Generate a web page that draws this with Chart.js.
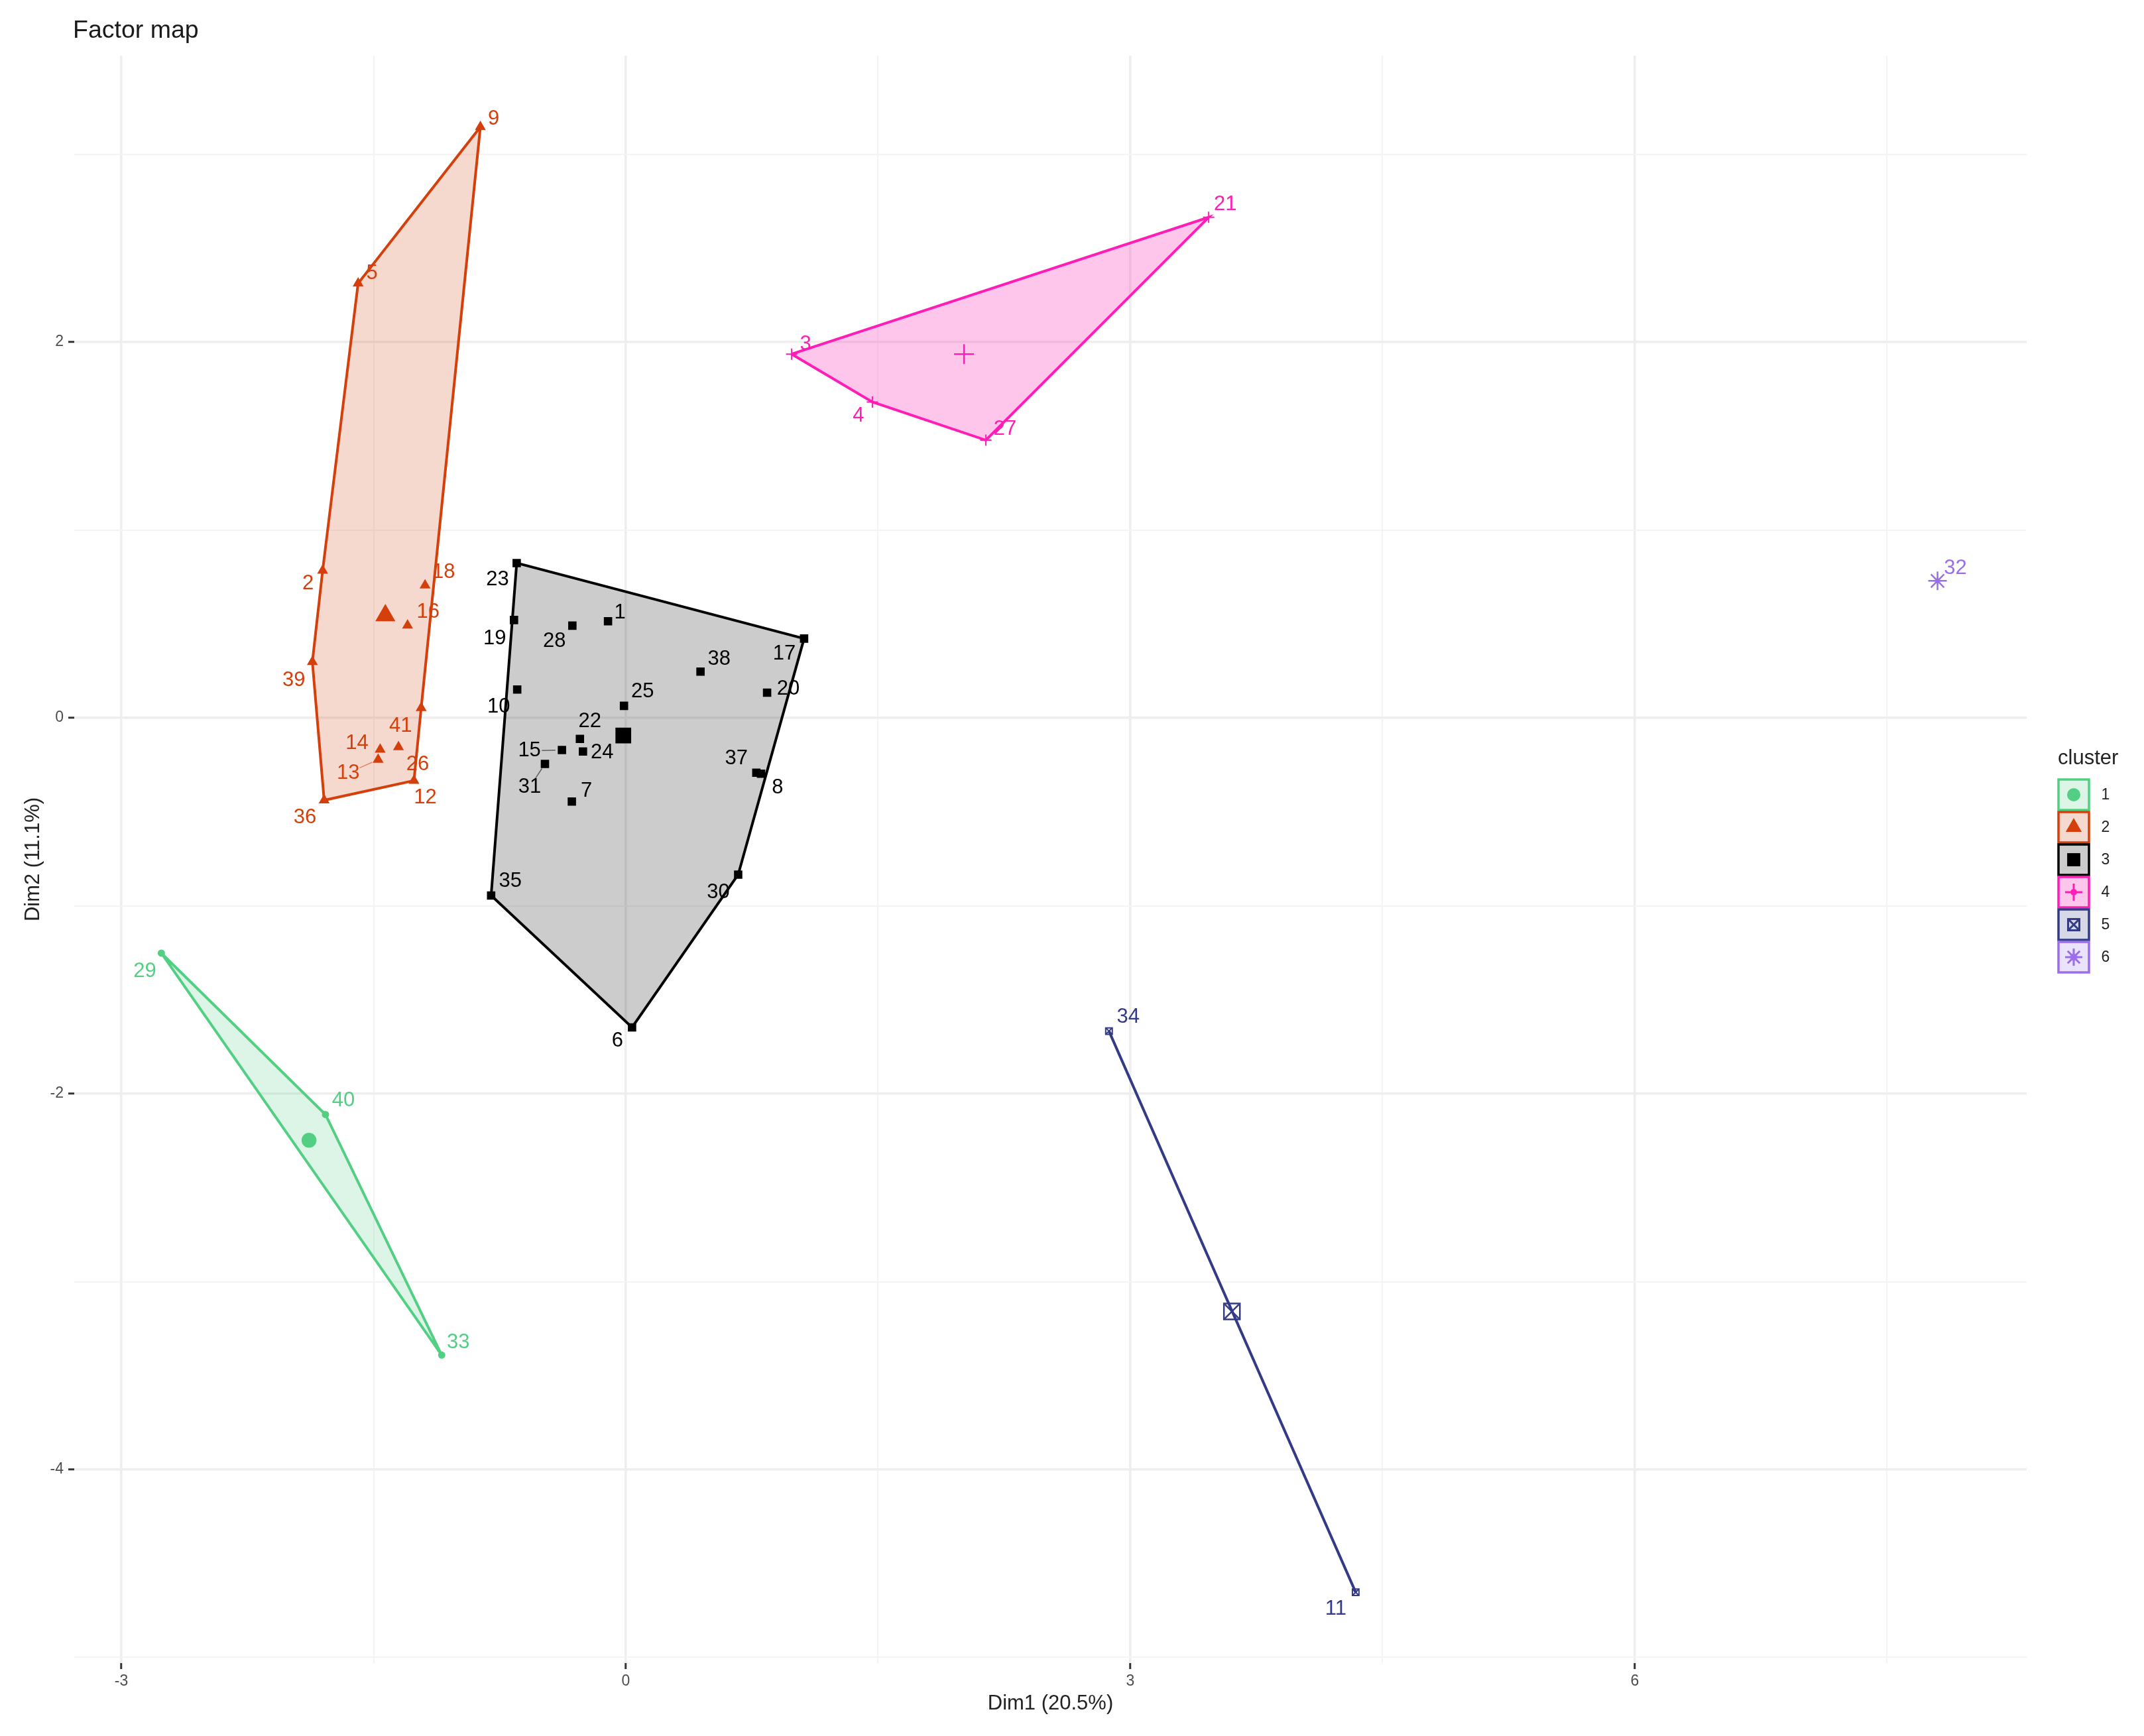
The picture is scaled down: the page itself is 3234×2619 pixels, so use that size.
<!DOCTYPE html>
<html>
<head>
<meta charset="utf-8">
<title>Factor map</title>
<script src="https://cdn.jsdelivr.net/npm/chart.js@4/dist/chart.umd.js"></script>
<style>
  html, body { margin: 0; padding: 0; background: #fff; }
  canvas { display: block; }
</style>
</head>
<body>
<canvas id="factorMap" width="3234" height="2619"></canvas>
<script>
"use strict";

// individuals
const cluster1Ids = ["29", "40", "33"];
const cluster1X = [-2.762, -1.786, -1.095];
const cluster1Y = [-1.252, -2.111, -3.391];

const cluster2Ids = ["9", "5", "2", "18", "16", "39", "41", "14", "26", "13", "12", "36"];
const cluster2X = [-0.865, -1.592, -1.803, -1.194, -1.298, -1.864, -1.217, -1.461, -1.352, -1.473, -1.26, -1.794];
const cluster2Y = [3.145, 2.312, 0.784, 0.706, 0.492, 0.298, 0.053, -0.168, -0.155, -0.222, -0.334, -0.438];

const cluster3Ids = ["23", "19", "1", "28", "38", "17", "20", "10", "25", "22", "15", "24", "31", "7", "37", "8", "30", "35", "6"];
const cluster3X = [-0.649, -0.665, -0.106, -0.318, 0.444, 1.06, 0.84, -0.646, -0.011, -0.273, -0.38, -0.255, -0.481, -0.321, 0.776, 0.804, 0.668, -0.801, 0.037];
const cluster3Y = [0.824, 0.521, 0.514, 0.491, 0.246, 0.422, 0.134, 0.151, 0.064, -0.112, -0.171, -0.179, -0.245, -0.445, -0.292, -0.297, -0.834, -0.945, -1.647];

const cluster4Ids = ["21", "3", "4", "27"];
const cluster4X = [3.466, 0.986, 1.466, 2.141];
const cluster4Y = [2.664, 1.936, 1.681, 1.478];

const cluster5Ids = ["34", "11"];
const cluster5X = [2.873, 4.34];
const cluster5Y = [-1.667, -4.653];

const cluster6Ids = ["32"];
const cluster6X = [7.8];
const cluster6Y = [0.729];

// outline of each cluster, by individual
const hull1 = ["29", "40", "33"];
const hull2 = ["9", "5", "2", "39", "36", "12", "41"];
const hull3 = ["23", "17", "30", "6", "35"];
const hull4 = ["3", "21", "27", "4"];
const hull5 = ["34", "11"];

// cluster centres
const centerX = [-1.884, -1.43, -0.015, 2.011, 3.604, 7.8];
const centerY = [-2.248, 0.545, -0.094, 1.936, -3.159, 0.729];

const clusterNames = ["1", "2", "3", "4", "5", "6"];
const clusterColors = ["#52cf82", "#d43f0b", "#000000", "#ff1db5", "#333a86", "#9a6eea"];

const xGrid = [-3, -1.5, 0, 1.5, 3, 4.5, 6, 7.5];
const yGrid = [3, 2, 1, 0, -1, -2, -3, -4, -5];
const xTickValues = [-3, 0, 3, 6];
const yTickValues = [2, 0, -2, -4];

const titleText = "Factor map";
const xTitle = "Dim1 (20.5%)";
const yTitle = "Dim2 (11.1%)";
const legendTitle = "cluster";

// label position relative to its point, in pixels (ggrepel did this in the original)
const labelNudge = {
  "9": [20, -12], "5": [21, -15], "2": [-22, 20], "18": [28, -19], "16": [31, -20], "39": [-28, 28],
  "41": [-31, 27], "14": [-35, -9], "26": [29, 26], "13": [-45, 20], "12": [17, 26], "36": [-29, 26],
  "23": [-29, 25], "19": [-29, 28], "1": [18, -13], "28": [-27, 24], "38": [28, -19], "17": [-30, 23],
  "20": [32, -6], "10": [-28, 26], "25": [28, -21], "22": [15, -26], "15": [-49, 1], "24": [29, 2],
  "31": [-23, 35], "7": [22, -16], "37": [-30, -21], "8": [25, 21], "30": [-30, 27], "35": [29, -21],
  "6": [-22, 21], "21": [25, -19], "3": [21, -15], "4": [-21, 21], "27": [29, -17],
  "29": [-25, 27], "40": [27, -21], "33": [25, -19], "34": [29, -21], "11": [-30, 25], "32": [27, -19]
};
const leaderLines = ["13", "15", "31"];

const FONT = '"Liberation Sans", Arial, sans-serif';

function toPoints(xs, ys) {
  return xs.map((x, i) => ({ x: x, y: ys[i] }));
}

function hullPoints(hull, ids, xs, ys) {
  return hull.map((id) => ({ x: xs[ids.indexOf(id)], y: ys[ids.indexOf(id)] }));
}

function withAlpha(hex, a) {
  const n = parseInt(hex.slice(1), 16);
  return `rgba(${n >> 16},${(n >> 8) & 255},${n & 255},${a})`;
}

const fillAlpha = [0.2, 0.2, 0.2, 0.25, 0.2, 0.2];

const clusters = [
  { ids: cluster1Ids, xs: cluster1X, ys: cluster1Y, hull: hull1, marks: [["circle", 4.5, true]], center: [["circle", 10, true]] },
  { ids: cluster2Ids, xs: cluster2X, ys: cluster2Y, hull: hull2, marks: [["triangle", 7.5, true]], center: [["triangle", 15, true]] },
  { ids: cluster3Ids, xs: cluster3X, ys: cluster3Y, hull: hull3, marks: [["rect", 7.5, true]], center: [["rect", 15, true]] },
  { ids: cluster4Ids, xs: cluster4X, ys: cluster4Y, hull: hull4, marks: [["cross", 8.5, false]], center: [["cross", 15, false]] },
  { ids: cluster5Ids, xs: cluster5X, ys: cluster5Y, hull: hull5, marks: [["rect", 7, false], ["crossRot", 7, false]], center: [["rect", 17, false], ["crossRot", 15, false]] },
  { ids: cluster6Ids, xs: cluster6X, ys: cluster6Y, hull: null, marks: [["star", 6, false]], center: [["star", 14, false]] }
];

const datasets = [];

clusters.forEach((c, i) => {
  const color = clusterColors[i];
  if (c.hull) {
    const outline = hullPoints(c.hull, c.ids, c.xs, c.ys);
    outline.push(outline[0]);
    datasets.push({
      data: outline,
      showLine: true,
      fill: "shape",
      tension: 0,
      borderColor: color,
      borderWidth: 4,
      backgroundColor: withAlpha(color, fillAlpha[i]),
      pointRadius: 0,
      order: 20 - i
    });
  }
  c.marks.forEach((m) => {
    datasets.push({
      data: toPoints(c.xs, c.ys),
      showLine: false,
      pointStyle: m[0],
      pointRadius: m[1],
      pointBorderWidth: 2,
      pointBorderColor: color,
      pointBackgroundColor: m[2] ? color : "rgba(0,0,0,0)",
      order: 10 - i
    });
  });
  c.center.forEach((m) => {
    datasets.push({
      data: [{ x: centerX[i], y: centerY[i] }],
      showLine: false,
      pointStyle: m[0],
      pointRadius: m[1],
      pointBorderWidth: 2.5,
      pointBorderColor: color,
      pointBackgroundColor: m[2] ? color : "rgba(0,0,0,0)",
      order: 10 - i
    });
  });
});

// repelled numbers next to the points, plus the three little leader lines
const pointLabels = {
  id: "pointLabels",
  afterDatasetsDraw(chart) {
    const { ctx, scales } = chart;
    ctx.save();
    ctx.font = `31px ${FONT}`;
    ctx.textAlign = "center";
    ctx.textBaseline = "middle";
    clusters.forEach((c, i) => {
      c.ids.forEach((id, k) => {
        const px = scales.x.getPixelForValue(c.xs[k]);
        const py = scales.y.getPixelForValue(c.ys[k]);
        const nudge = labelNudge[id];
        if (leaderLines.includes(id)) {
          ctx.strokeStyle = clusterColors[i];
          ctx.globalAlpha = 0.55;
          ctx.lineWidth = 1.5;
          ctx.beginPath();
          ctx.moveTo(px + nudge[0] * 0.2, py + nudge[1] * 0.2);
          ctx.lineTo(px + nudge[0] * 0.62, py + nudge[1] * 0.62);
          ctx.stroke();
          ctx.globalAlpha = 1;
        }
        ctx.fillStyle = clusterColors[i];
        ctx.fillText(id, px + nudge[0], py + nudge[1]);
      });
    });
    ctx.restore();
  }
};

// plot title and the ggplot style legend with boxed keys
const titleAndLegend = {
  id: "titleAndLegend",
  afterDraw(chart) {
    const { ctx } = chart;
    ctx.save();
    ctx.textBaseline = "middle";
    ctx.textAlign = "left";
    ctx.fillStyle = "#1a1a1a";
    ctx.font = `37.5px ${FONT}`;
    ctx.fillText(titleText, 110, 47);

    ctx.fillStyle = "#222222";
    ctx.font = `31px ${FONT}`;
    ctx.fillText(legendTitle, 3104, 1144);

    const keyMarks = [[["circle", 10, true]], [["triangle", 14, true]], [["rect", 14, true]], [["cross", 13, false], ["star", 5, false]], [["rect", 12, false], ["crossRot", 11, false]], [["star", 13, false], ["star", 6, false]]];
    clusterNames.forEach((name, i) => {
      const color = clusterColors[i];
      const top = 1176 + i * 49;
      ctx.fillStyle = withAlpha(color, fillAlpha[i]);
      ctx.strokeStyle = color;
      ctx.lineWidth = 3.5;
      ctx.fillRect(3105, top, 46, 46);
      ctx.strokeRect(3105, top, 46, 46);
      keyMarks[i].forEach((m) => {
        ctx.fillStyle = m[2] ? color : "rgba(0,0,0,0)";
        ctx.strokeStyle = color;
        ctx.lineWidth = 3;
        Chart.helpers.drawPoint(ctx, { pointStyle: m[0], radius: m[1], rotation: 0, borderWidth: m[2] ? 0 : 3 }, 3128, top + 23);
      });
      ctx.fillStyle = "#222222";
      ctx.font = `23px ${FONT}`;
      ctx.textAlign = "center";
      ctx.fillText(name, 3176, top + 24);
      ctx.textAlign = "left";
    });
    ctx.restore();
  }
};

function gridColor(list) {
  return (c) => (list.includes(c.tick.value) ? "#eeeeee" : "#f4f4f4");
}
function gridWidth(list) {
  return (c) => (list.includes(c.tick.value) ? 3.5 : 2);
}
function tickColor(list) {
  return (c) => (list.includes(c.tick.value) ? "#333333" : "rgba(0,0,0,0)");
}

new Chart(document.getElementById("factorMap").getContext("2d"), {
  type: "scatter",
  data: { datasets: datasets },
  plugins: [pointLabels, titleAndLegend],
  options: {
    responsive: false,
    devicePixelRatio: 1,
    animation: false,
    layout: { padding: { left: 0, top: 84, right: 177, bottom: 0 } },
    plugins: { legend: { display: false }, title: { display: false }, tooltip: { enabled: false } },
    scales: {
      x: {
        type: "linear",
        min: -3.28,
        max: 8.33,
        afterBuildTicks(scale) { scale.ticks = xGrid.map((v) => ({ value: v })); },
        afterFit(scale) { scale.height = 110; },
        border: { display: false },
        grid: { color: gridColor(xTickValues), lineWidth: gridWidth(xTickValues), tickColor: tickColor(xTickValues), tickLength: 9, tickWidth: 3 },
        ticks: {
          autoSkip: false,
          maxRotation: 0,
          padding: 5,
          color: "#4d4d4d",
          font: { family: FONT, size: 23 },
          callback: (v) => (xTickValues.includes(v) ? String(v) : "")
        },
        title: { display: true, text: xTitle, color: "#222222", font: { family: FONT, size: 31 }, padding: { top: 0, bottom: 30 } }
      },
      y: {
        type: "linear",
        min: -5.03,
        max: 3.524,
        afterBuildTicks(scale) { scale.ticks = yGrid.map((v) => ({ value: v })); },
        afterFit(scale) { scale.width = 112; },
        border: { display: false },
        grid: { color: gridColor(yTickValues), lineWidth: gridWidth(yTickValues), tickColor: tickColor(yTickValues), tickLength: 9, tickWidth: 3 },
        ticks: {
          autoSkip: false,
          padding: 7,
          color: "#4d4d4d",
          font: { family: FONT, size: 23 },
          callback: (v) => (yTickValues.includes(v) ? String(v) : "")
        },
        title: { display: true, text: yTitle, color: "#222222", font: { family: FONT, size: 31 }, padding: { top: 32, bottom: 0 } }
      }
    }
  }
});
</script>
</body>
</html>
